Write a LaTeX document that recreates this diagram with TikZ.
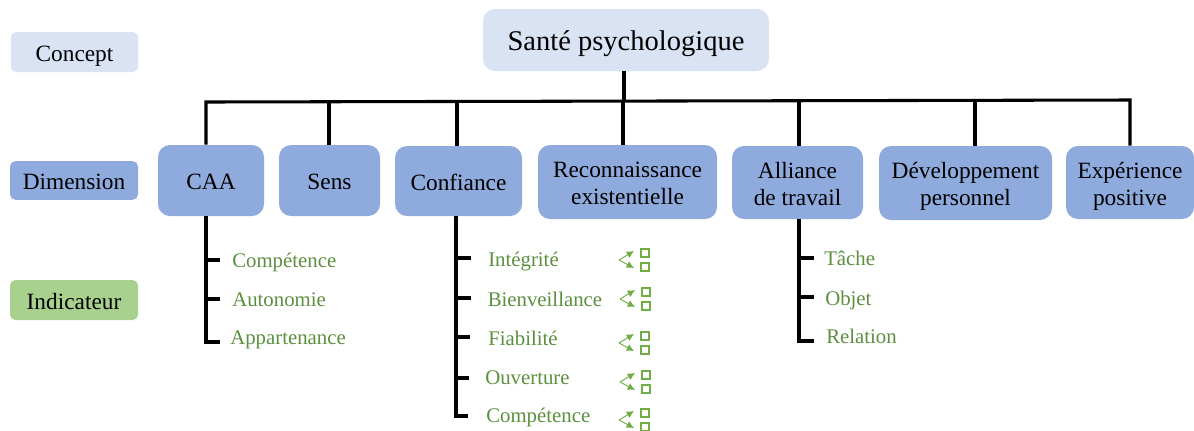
\documentclass[tikz,border=0pt]{standalone}
\usepackage{fontspec}
\setmainfont{Liberation Serif}
\usetikzlibrary{arrows.meta}
\definecolor{conceptc}{HTML}{DAE3F3}
\definecolor{dimc}{HTML}{8FAADC}
\definecolor{indc}{HTML}{A9D18E}
\definecolor{greentxt}{HTML}{5B8F3E}
\definecolor{iconc}{HTML}{70AD47}
\tikzset{
 x=0.75pt,y=-0.75pt,
 box/.style={rounded corners=9pt,inner sep=0pt,align=center,text=black,font=\fontsize{17.5pt}{20.25pt}\selectfont},
 legendbox/.style={box,rounded corners=4pt},
 link/.style={draw=black,line width=2.3pt},
 ind/.style={text=greentxt,font=\fontsize{15.6pt}{18pt}\selectfont,inner sep=0pt,anchor=west,text height=11pt,text depth=3.6pt,yshift=-2pt},
 arr/.style={draw=iconc,line width=0.7pt,-{Latex[length=5.5pt,width=5.5pt]}},
 sq/.style={draw=iconc,line width=1.3pt,minimum size=6.2pt,inner sep=0pt},
 tickicon/.pic={
  \coordinate (-v) at (0,0);
  \coordinate (-a) at (15,-9);
  \coordinate (-b) at (15,8);
  \draw[arr] (-v) -- (-a);
  \draw[arr] (-v) -- (-b);
  \node[sq] (-s1) at (26,-7) {};
  \node[sq] (-s2) at (26,7) {};
 }
}
\newcommand{\tx}[1]{\raisebox{0pt}[\dimexpr\height+5.6pt\relax]{\begin{tabular}{@{}c@{}}#1\end{tabular}}}
\newcommand{\bx}[7]{\node[box,fill=#2,minimum width=#5*0.75pt-#3*0.75pt,minimum height=#6*0.75pt-#4*0.75pt] (#1) at ({(#3+#5)/2},{(#4+#6)/2}) {\tx{#7}};}
\begin{document}
\begin{tikzpicture}
\useasboundingbox (0,0) rectangle (1194,430);
% legend
\node[legendbox,fill=conceptc,minimum width=95.5pt,minimum height=30pt] (lc) at (74.5,52) {\tx{Concept}};
\node[legendbox,fill=dimc,minimum width=96pt,minimum height=29pt] (ld) at (74,180.5) {\tx{Dimension}};
\node[legendbox,fill=indc,minimum width=96pt,minimum height=30pt] (li) at (74,300) {\tx{Indicateur}};
% root
\node[box,fill=conceptc,minimum width=214.5pt,minimum height=46.5pt,font=\fontsize{21.4pt}{25pt}\selectfont] (root) at (626,40) {\tx{Santé psychologique}};
% dimensions
\bx{caa}{dimc}{158}{145}{264}{216}{CAA}
\bx{sens}{dimc}{279}{145}{380}{216}{Sens}
\bx{conf}{dimc}{395}{146}{522}{216}{Confiance}
\bx{rec}{dimc}{538}{145}{717}{219}{Reconnaissance\\existentielle}
\bx{all}{dimc}{732}{146}{863}{219}{Alliance\\de travail}
\bx{dev}{dimc}{879}{146}{1052}{220}{Développement\\personnel}
\bx{exp}{dimc}{1066}{146}{1194}{219}{Expérience\\positive}
% bus
\coordinate (b1) at (206,102);
\coordinate (b2) at (329,101.5);
\coordinate (b3) at (457,101.5);
\coordinate (b4) at (623,101);
\coordinate (b5) at (799,101);
\coordinate (b6) at (975,100.5);
\coordinate (b7) at (1130,100);
\draw[link,line join=miter] (caa.north -| b1) -- (b1) -- (b7) -- (exp.north -| b7);
\draw[link] (b2) -- (sens.north -| b2);
\draw[link] (b3) -- (conf.north -| b3);
\draw[link] (b4) -- (rec.north -| b4);
\draw[link] (b5) -- (all.north -| b5);
\draw[link] (b6) -- (dev.north -| b6);
\coordinate (r0) at (624,101);
\draw[link] (root.south -| r0) -- (r0);
% CAA
\node[ind] (c1) at (232,260) {Compétence};
\node[ind] (c2) at (232,299) {Autonomie};
\node[ind] (c3) at (230,337) {Appartenance};
\coordinate (ct) at (206,216);
\coordinate (t1) at (220,260);
\coordinate (t2) at (220,299);
\coordinate (t3) at (220,342);
\draw[link] (caa.south -| ct) -- (ct |- t3) -- (t3);
\draw[link] (ct |- t1) -- (t1);
\draw[link] (ct |- t2) -- (t2);
% Confiance
\node[ind] (f1) at (488,259) {Intégrité};
\node[ind] (f2) at (487.5,299) {Bienveillance};
\node[ind] (f3) at (488,338) {Fiabilité};
\node[ind] (f4) at (485,377) {Ouverture};
\node[ind] (f5) at (486,415) {Compétence};
\coordinate (ft) at (456,216);
\coordinate (u1) at (471,258);
\coordinate (u2) at (471,298);
\coordinate (u3) at (470,337);
\coordinate (u4) at (469,378);
\coordinate (u5) at (468,416);
\draw[link] (conf.south -| ft) -- (ft |- u5) -- (u5);
\draw[link] (ft |- u1) -- (u1);
\draw[link] (ft |- u2) -- (u2);
\draw[link] (ft |- u3) -- (u3);
\draw[link] (ft |- u4) -- (u4);
\pic (i1) at (619,260) {tickicon};
\pic (i2) at (620,299) {tickicon};
\pic (i3) at (619,343) {tickicon};
\pic (i4) at (620,382) {tickicon};
\pic (i5) at (619,420) {tickicon};
% Alliance
\node[ind] (a1) at (824,258) {Tâche};
\node[ind] (a2) at (825,298) {Objet};
\node[ind] (a3) at (826,336) {Relation};
\coordinate (at) at (799,219);
\coordinate (v1) at (814,258);
\coordinate (v2) at (814,297);
\coordinate (v3) at (814,341);
\draw[link] (all.south -| at) -- (at |- v3) -- (v3);
\draw[link] (at |- v1) -- (v1);
\draw[link] (at |- v2) -- (v2);
\end{tikzpicture}
\end{document}
